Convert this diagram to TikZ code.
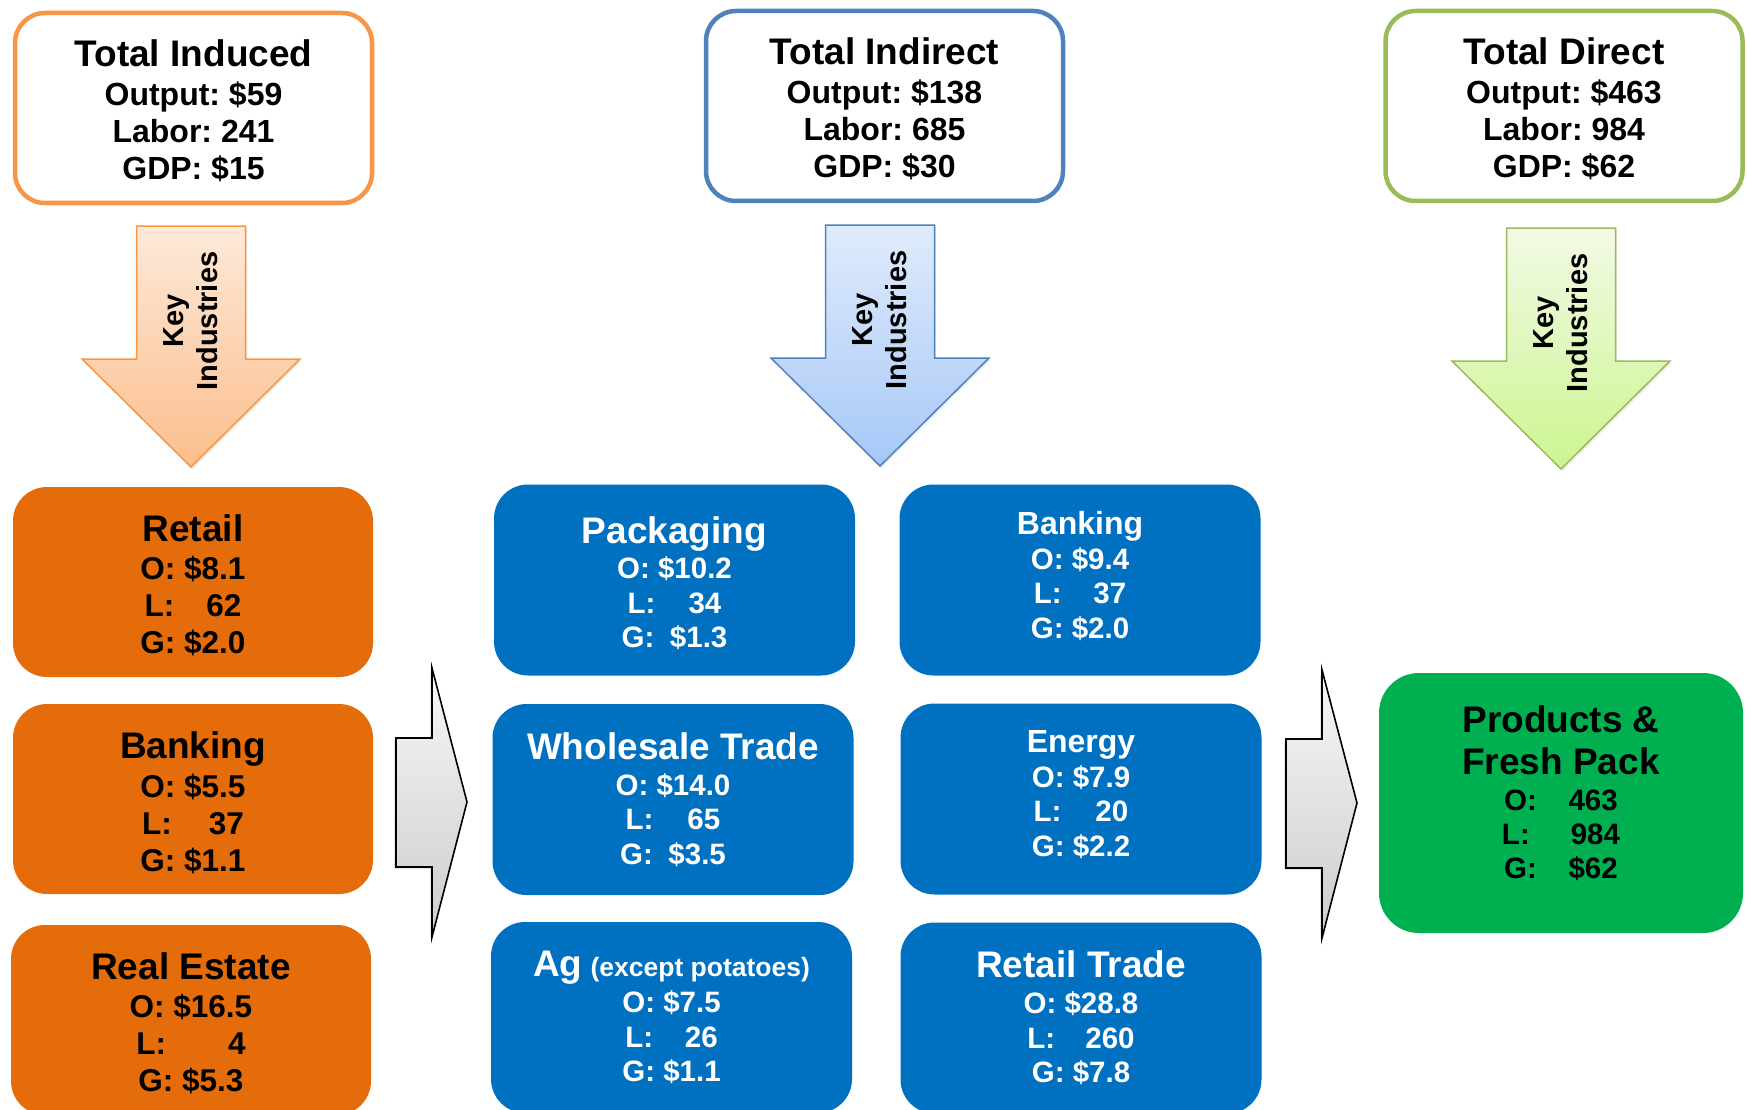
\documentclass[tikz,border=0pt]{standalone}
\usepackage{fontspec}
\setmainfont{Liberation Sans}
\usetikzlibrary{shadows}
\definecolor{indLine}{HTML}{F79646}
\definecolor{indTop}{HTML}{FDE9D9}
\definecolor{indBot}{HTML}{FBBE8C}
\definecolor{indirLine}{HTML}{4F81BD}
\definecolor{indirTop}{HTML}{E0EBFB}
\definecolor{indirBot}{HTML}{A6C8F8}
\definecolor{dirLine}{HTML}{9BBB59}
\definecolor{dirTop}{HTML}{F2FAE6}
\definecolor{dirBot}{HTML}{CCF590}
\definecolor{orgfill}{HTML}{E46C0A}
\definecolor{blufill}{HTML}{0070C0}
\definecolor{grnfill}{HTML}{00B050}
\newcommand{\hdr}[1]{{\fontsize{37}{44}\selectfont #1}}
\newcommand{\hdrs}[1]{{\fontsize{32}{38}\selectfont #1}}
\newcommand{\paren}[1]{{\fontsize{26.5}{30}\selectfont #1}}
% struts to nudge the text inside a box
\newcommand{\tallrow}[1]{\rule{0pt}{#1}}
\newcommand{\deeprow}[1]{\rule[-#1]{0pt}{#1}}
\begin{document}
\frenchspacing
\begin{tikzpicture}[x=1pt,y=-1pt,
 totbox/.style={draw,line width=4.5pt,fill=white,rounded corners=30pt,
   minimum width=357pt,minimum height=190pt,align=center,inner sep=0pt,
   font=\fontsize{32}{37}\selectfont\bfseries},
 orgbox/.style={fill=orgfill,rounded corners=34pt,minimum width=360pt,
   minimum height=190pt,align=center,inner sep=0pt,
   font=\fontsize{31.5}{37}\selectfont\bfseries},
 blubox/.style={fill=blufill,text=white,rounded corners=34pt,
   minimum width=361pt,minimum height=191pt,align=center,inner sep=0pt,
   font=\fontsize{29.5}{34.5}\selectfont\bfseries},
 grnbox/.style={fill=grnfill,rounded corners=40pt,minimum width=364pt,
   minimum height=260pt,align=center,inner sep=0pt,
   font=\fontsize{29.5}{34}\selectfont\bfseries},
 keytxt/.style={rotate=90,align=center,inner sep=0pt,
   font=\fontsize{29}{34}\selectfont\bfseries},
 grayarr/.style={draw=black,line width=1.6pt,top color=gray!6,
   bottom color=gray!40,
   drop shadow={opacity=0.2,shadow xshift=-2pt,shadow yshift=-2pt}}]
 \useasboundingbox (0,0) rectangle (1747,1110);
 \clip (0,0) rectangle (1747,1110);
 % totals
 \node[totbox,draw=indLine] (totInd) at (193.5,108)
  {\tallrow{32pt}\hdr{Total Induced}\\[2pt]Output: \$59\\Labor: 241\\GDP: \$15};
 \node[totbox,draw=indirLine] (totIndir) at (884.5,106)
  {\tallrow{32pt}\hdr{Total Indirect}\\[2pt]Output: \$138\\Labor: 685\\GDP: \$30};
 \node[totbox,draw=dirLine] (totDir) at (1564,106)
  {\tallrow{32pt}\hdr{Total Direct}\\[2pt]Output: \$463\\Labor: 984\\GDP: \$62};
 % key industries arrows
 \foreach \cx/\ty/\col in {191/226/ind,880/225/indir,1561/228/dir}{
  \draw[draw=\col Line,line width=1.5pt,top color=\col Top,
    bottom color=\col Bot,
    drop shadow={opacity=0.15,shadow xshift=1.5pt,shadow yshift=-2pt}]
   (\cx-54.5,\ty) -- (\cx+54.5,\ty) -- (\cx+54.5,\ty+133)
   -- (\cx+109,\ty+133) -- (\cx,\ty+241) -- (\cx-109,\ty+133)
   -- (\cx-54.5,\ty+133) -- cycle;
  \node[keytxt] (key\col) at (\cx,\ty+95) {Key\\Industries};
 }
 % induced
 \node[orgbox] (oRetail) at (193,582)
  {\tallrow{33pt}\hdr{Retail}\\[1pt]O: \$8.1\\L:\hspace{1.02em}62\\G: \$2.0};
 \node[orgbox] (oBank) at (193,799)
  {\tallrow{34pt}\hdr{Banking}\\[1.5pt]O: \$5.5\\L:\hspace{1.17em}37\\G: \$1.1};
 \node[orgbox] (oEstate) at (191,1020)
  {\tallrow{33pt}\hdr{Real Estate}\\[1pt]O: \$16.5\\L:\hspace{1.97em}4\\G: \$5.3};
 % indirect
 \node[blubox] (bPack) at (674.5,580)
  {\tallrow{33pt}\hdr{Packaging}\\[1.3pt]O: \$10.2\\L:\hspace{1.12em}34\\G:\hspace{0.53em}\$1.3};
 \node[blubox] (bWhole) at (673,799.5)
  {\hdr{Wholesale Trade}\\[1.3pt]O: \$14.0\\L:\hspace{1.15em}65\\G:\hspace{0.53em}\$3.5};
 \node[blubox] (bAg) at (671.5,1017.5)
  {\hdr{Ag} \paren{(except potatoes)}\\[1.3pt]O: \$7.5\\L:\hspace{1.08em}26\\G: \$1.1};
 \node[blubox] (bBank) at (1080,580)
  {\hdrs{Banking}\\O: \$9.4\\L:\hspace{1.08em}37\\G: \$2.0\deeprow{10pt}};
 \node[blubox] (bEnergy) at (1081,799)
  {\hdrs{Energy}\\O: \$7.9\\L:\hspace{1.15em}20\\G: \$2.2\deeprow{11pt}};
 \node[blubox] (bRetail) at (1081,1018)
  {\hdr{Retail Trade}\\[1.3pt]O: \$28.8\\L:\hspace{1.02em}260\\G: \$7.8};
 % direct
 \node[grnbox] (gProd) at (1561,803)
  {\hdr{Products \&}\\[7.5pt]\hdr{Fresh Pack}\\[2.5pt]O:\hspace{1.07em}463\\L:\hspace{1.39em}984\\G:\hspace{1.07em}\$62\deeprow{21pt}};
 % flow arrows
 \draw[grayarr] (396,738) -- (432,738) -- (432,668) -- (467,802)
  -- (432,937) -- (432,867) -- (396,867) -- cycle;
 \draw[grayarr] (1286,739) -- (1322,739) -- (1322,670) -- (1357,803)
  -- (1322,938) -- (1322,868) -- (1286,868) -- cycle;
\end{tikzpicture}
\end{document}
